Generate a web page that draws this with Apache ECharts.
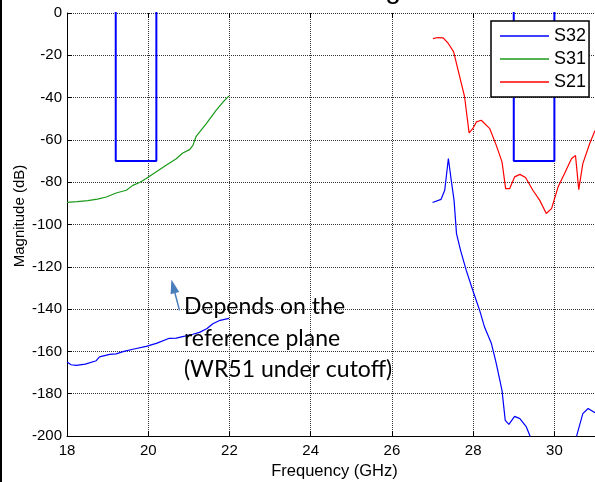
<!DOCTYPE html>
<html>
<head>
<meta charset="utf-8">
<script src="https://cdn.jsdelivr.net/npm/echarts@6/dist/echarts.min.js"></script>
<style>
  html, body { margin: 0; padding: 0; background: #fff; }
  #chart { width: 595px; height: 482px; }
</style>
</head>
<body>
<div id="chart"></div>
<script>
// Frequency (GHz) and magnitude (dB) samples for each trace
const s32LowFreq = [18.0, 18.1, 18.23, 18.45, 18.72, 18.8, 19.05, 19.21, 19.4, 19.62, 19.95, 20.2, 20.52, 20.69, 20.9, 21.1, 21.26, 21.45, 21.59, 21.77, 21.99];
const s32LowMag  = [-165.0, -166.3, -166.6, -166.0, -164.4, -162.6, -161.4, -161.2, -160.0, -159.0, -157.6, -156.2, -153.8, -153.7, -152.8, -151.9, -151.0, -149.2, -146.9, -145.3, -144.4];

const s32HighFreq = [27.0, 27.21, 27.3, 27.39, 27.46, 27.53, 27.59, 27.69, 27.83, 27.99, 28.16, 28.28, 28.45, 28.57, 28.71, 28.79, 28.88, 29.02, 29.15, 29.31, 29.41, 29.6, 29.9, 30.2, 30.45, 30.54, 30.7, 30.83, 31.0];
const s32HighMag  = [-89.6, -88.1, -83.8, -68.8, -79.0, -88.6, -104.3, -112.2, -121.7, -131.1, -140.6, -148.5, -156.3, -165.8, -178.4, -192.6, -194.5, -190.7, -191.8, -195.7, -200.5, -206.0, -210.0, -209.0, -204.0, -200.5, -189.4, -187.0, -189.0];

const s31Freq = [18.0, 18.25, 18.51, 18.75, 18.97, 19.21, 19.46, 19.62, 19.8, 19.95, 20.19, 20.44, 20.69, 20.85, 21.02, 21.1, 21.18, 21.43, 21.67, 21.84, 21.99];
const s31Mag  = [-89.5, -89.2, -88.7, -88.0, -87.0, -85.1, -83.8, -81.5, -80.0, -78.3, -75.2, -72.0, -68.9, -66.2, -64.6, -62.6, -58.3, -52.3, -46.0, -42.1, -39.2];

const s21Freq = [27.01, 27.13, 27.26, 27.38, 27.52, 27.65, 27.79, 27.83, 27.9, 27.99, 28.08, 28.2, 28.41, 28.57, 28.71, 28.8, 28.9, 29.02, 29.15, 29.29, 29.47, 29.64, 29.8, 29.93, 30.09, 30.25, 30.42, 30.52, 30.6, 30.7, 30.87, 31.0];
const s21Mag  = [-12.1, -11.6, -11.8, -14.2, -18.4, -28.7, -39.7, -46.0, -56.7, -54.7, -51.5, -50.7, -54.7, -62.6, -70.4, -83.0, -83.0, -77.5, -76.3, -77.8, -83.8, -88.6, -94.8, -92.5, -82.3, -75.9, -68.9, -67.4, -83.5, -71.2, -61.7, -55.5];

// Spec masks (open-top limit boxes)
const maskLowFreq  = [19.2, 19.2, 20.2, 20.2];
const maskHighFreq = [29.0, 29.0, 30.0, 30.0];
const maskMag      = [5, -70, -70, 5];

// Axis ranges and tick steps
const freqMin = 18, freqMax = 31, freqStep = 2;
const magMin = -200, magMax = 0, magStep = 20;

const legendNames = ['S32', 'S31', 'S21'];
const noteLines = ['Depends on the', 'reference plane', '(WR51 under cutoff)'];
const titleText = 'g';

const pairs = (xs, ys) => xs.map((x, i) => [x, ys[i]]);

const BLUE = '#0000ff', GREEN = '#1a9a1a', RED = '#ff0000';
const AXIS_FONT = 'Liberation Sans';

function curve(name, data, color, width) {
  return {
    name: name, type: 'line', data: data,
    symbol: 'none', showSymbol: false, clip: true,
    lineStyle: { color: color, width: width },
    itemStyle: { color: color },
    emphasis: { disabled: true },
    z: 3
  };
}

const chart = echarts.init(document.getElementById('chart'), null, { renderer: 'canvas' });

const gridLine = { show: true, lineStyle: { color: '#333', type: [1, 1], width: 1 } };

chart.setOption({
  animation: false,
  backgroundColor: '#fff',
  grid: { left: 67, right: 0, top: 13, bottom: 46, containLabel: false },
  xAxis: [{
    type: 'value', min: freqMin, max: freqMax, interval: freqStep,
    axisLine: { show: true, onZero: false, lineStyle: { color: '#000', width: 1 } },
    axisTick: { show: true, inside: true, length: 5, lineStyle: { color: '#000' } },
    axisLabel: { color: '#000', fontSize: 15, fontFamily: AXIS_FONT, margin: 7, showMaxLabel: false },
    splitLine: gridLine
  }, {
    type: 'value', position: 'top', min: freqMin, max: freqMax, interval: freqStep,
    axisLine: { show: false },
    axisTick: { show: true, inside: true, length: 5, lineStyle: { color: '#000' } },
    axisLabel: { show: false },
    splitLine: { show: false }
  }],
  yAxis: {
    type: 'value', min: magMin, max: magMax, interval: magStep,
    axisLine: { show: true, onZero: false, lineStyle: { color: '#000', width: 1 } },
    axisTick: { show: true, inside: true, length: 5, lineStyle: { color: '#000' } },
    axisLabel: { color: '#000', fontSize: 15, fontFamily: AXIS_FONT, margin: 5 },
    splitLine: gridLine
  },
  legend: {
    data: legendNames,
    orient: 'vertical',
    left: 491, top: 21,
    padding: [6, 3, 6, 9],
    itemWidth: 49, itemHeight: 1.5, itemGap: 5,
    icon: 'rect',
    textStyle: { fontSize: 18, fontFamily: AXIS_FONT, color: '#000', lineHeight: 17 },
    backgroundColor: '#fff',
    borderColor: '#000', borderWidth: 1.5, borderRadius: 0,
    selectedMode: false,
    z: 10
  },
  series: [
    curve('S32', pairs(s32LowFreq, s32LowMag), BLUE, 1.2),
    curve('S32', pairs(s32HighFreq, s32HighMag), BLUE, 1.2),
    curve('S32', pairs(maskLowFreq, maskMag), BLUE, 2),
    curve('S32', pairs(maskHighFreq, maskMag), BLUE, 2),
    curve('S31', pairs(s31Freq, s31Mag), GREEN, 1.2),
    curve('S21', pairs(s21Freq, s21Mag), RED, 1.2)
  ]
});

// Annotation arrow and note, anchored in data coordinates
const arrowTail = chart.convertToPixel({ gridIndex: 0 }, [20.77, -140.6]);
const arrowTip  = chart.convertToPixel({ gridIndex: 0 }, [20.57, -126.0]);
const noteAnchor = chart.convertToPixel({ gridIndex: 0 }, [20.88, -153.8]);

const dx = arrowTip[0] - arrowTail[0], dy = arrowTip[1] - arrowTail[1];
const len = Math.hypot(dx, dy), ux = dx / len, uy = dy / len;
const headLen = 14, headHalf = 4.5;
const baseX = arrowTip[0] - ux * headLen, baseY = arrowTip[1] - uy * headLen;
const ARROW = '#4a7ebb';

chart.setOption({
  graphic: [
    { type: 'rect', shape: { x: 0, y: 0, width: 2, height: 482 }, style: { fill: '#000' }, silent: true },
    {
      type: 'text', x: 393, y: -10,
      style: { text: titleText, fontSize: 28, fontFamily: AXIS_FONT, fill: '#000', align: 'center', verticalAlign: 'middle' },
      silent: true
    },
    {
      type: 'text', x: 334.5, y: 471,
      style: { text: 'Frequency (GHz)', fontSize: 16.5, fontFamily: AXIS_FONT, fill: '#000', align: 'center', verticalAlign: 'middle' },
      silent: true
    },
    {
      type: 'text', x: 20, y: 216, rotation: Math.PI / 2,
      style: { text: 'Magnitude (dB)', fontSize: 15, fontFamily: AXIS_FONT, fill: '#000', align: 'center', verticalAlign: 'middle' },
      silent: true
    },
    {
      type: 'line',
      shape: { x1: arrowTail[0], y1: arrowTail[1], x2: baseX, y2: baseY },
      style: { stroke: ARROW, lineWidth: 1.5 }, silent: true, z: 20
    },
    {
      type: 'polygon',
      shape: { points: [
        [arrowTip[0], arrowTip[1]],
        [baseX - uy * headHalf, baseY + ux * headHalf],
        [baseX + uy * headHalf, baseY - ux * headHalf]
      ] },
      style: { fill: ARROW }, silent: true, z: 20
    },
    {
      type: 'text', x: noteAnchor[0], y: noteAnchor[1],
      style: {
        text: noteLines.join('\n'), fontSize: 23, lineHeight: 31.7,
        fontFamily: 'Lato', fill: '#000', align: 'left', verticalAlign: 'middle'
      },
      silent: true, z: 20
    }
  ]
});
</script>
</body>
</html>
